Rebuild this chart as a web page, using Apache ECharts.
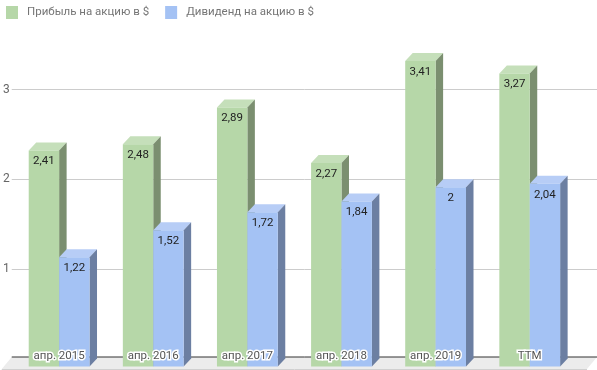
<!DOCTYPE html>
<html><head><meta charset="utf-8">
<script src="https://cdn.jsdelivr.net/npm/echarts@6/dist/echarts.min.js"></script>
<style>html,body{margin:0;padding:0;background:#fff}#c{width:597px;height:370px}</style>
</head><body><div id="c"></div>
<script>
const categories = ['апр. 2015', 'апр. 2016', 'апр. 2017', 'апр. 2018', 'апр. 2019', 'TTM'];
const profit = [2.41, 2.48, 2.89, 2.27, 3.41, 3.27];
const dividend = [1.22, 1.52, 1.72, 1.84, 2, 2.04];
const seriesNames = ['Прибыль на акцию в $', 'Дивиденд на акцию в $'];
const yTicks = [1, 2, 3];

const FONT = 'Roboto, "Noto Sans", sans-serif';
const DX = 7.5, DY = 8, BAR_FRAC = 0.323;
const colors = [
  {front: '#b6d7a8', side: '#7b8f70', top: '#c5dfba'},
  {front: '#a4c2f4', side: '#6c7fa2', top: '#b7cdf6'}
];
const fmt = v => String(v).replace('.', ',');

function barRender(k) {
  return function (params, api) {
    const i = api.value(0), v = api.value(1);
    const p = api.coord([i, v]), p0 = api.coord([i, 0]);
    const band = api.size([1, 0])[0];
    const w = band * BAR_FRAC;
    const cx = p[0] - DX;
    const xl = k === 0 ? cx - w : cx;
    const xr = xl + w;
    const yt = p[1] + DY, yb = p0[1] + DY;
    const c = colors[k];
    return {
      type: 'group',
      children: [
        {type: 'polygon', shape: {points: [[xl, yt], [xl + DX, yt - DY], [xr + DX, yt - DY], [xr, yt]]}, style: {fill: c.top}},
        {type: 'polygon', shape: {points: [[xr, yb], [xr, yt], [xr + DX, yt - DY], [xr + DX, yb - DY]]}, style: {fill: c.side}},
        {type: 'rect', shape: {x: xl, y: yt, width: w, height: yb - yt}, style: {fill: c.front}},
        {type: 'text', style: {text: fmt(v), x: (xl + xr) / 2, y: yt + 11, align: 'center', verticalAlign: 'middle', fill: '#222', font: '11.5px ' + FONT}}
      ]
    };
  };
}

const chart = echarts.init(document.getElementById('c'), null, {renderer: 'canvas'});
chart.setOption({
  animation: false,
  legend: {
    data: seriesNames, left: 1, top: 1, icon: 'rect', itemWidth: 12, itemHeight: 13, itemGap: 16,
    textStyle: {color: '#757575', fontSize: 11.5, fontFamily: FONT, padding: [0, 0, 0, 4]}
  },
  grid: {left: 10, right: 0, top: -4.7, bottom: 11.5, containLabel: false},
  xAxis: {type: 'value', min: -0.583, max: 5.635, show: false},
  yAxis: {
    type: 'value', min: 0, max: 4, interval: 1,
    axisLine: {show: false}, axisTick: {show: false},
    axisLabel: {color: '#666', fontSize: 12, fontFamily: FONT, margin: 2, showMinLabel: false, showMaxLabel: false,
      formatter: v => yTicks.includes(v) ? fmt(v) : ''},
    splitLine: {show: true, showMinLine: false, showMaxLine: false, lineStyle: {color: '#cccccc', width: 1}}
  },
  series: [
    {
      type: 'custom', name: 'floor', silent: true, z: 1,
      data: [[0, 0]],
      renderItem: function (params, api) {
        const cs = params.coordSys;
        const y0 = api.coord([0, 0])[1];
        const xl = cs.x, xr = cs.x + cs.width;
        const top = y0 - 1.5, bot = y0 + 10.5;
        return {type: 'group', children: [
          {type: 'polygon', shape: {points: [[xl, top], [xr, top], [xr - 10, bot], [xl - 10, bot]]}, style: {fill: '#ececec'}},
          {type: 'line', shape: {x1: xl - 10, y1: bot + 0.5, x2: xr - 10, y2: bot + 0.5}, style: {stroke: '#d0d0d0', lineWidth: 1}},
          {type: 'line', shape: {x1: xl, y1: top, x2: xr, y2: top}, style: {stroke: '#333', lineWidth: 1}}
        ]};
      }
    },
    {type: 'custom', name: seriesNames[0], z: 2, itemStyle: {color: colors[0].front},
      data: profit.map((v, i) => [i, v]), renderItem: barRender(0)},
    {type: 'custom', name: seriesNames[1], z: 3, itemStyle: {color: colors[1].front},
      data: dividend.map((v, i) => [i, v]), renderItem: barRender(1)},
    {
      type: 'custom', name: 'cats', silent: true, z: 4,
      data: categories.map((c, i) => [i, 0]),
      renderItem: function (params, api) {
        const i = api.value(0);
        const p = api.coord([i, 0]);
        const x = p[0] - DX, y = p[1] - 2;
        const t = categories[i];
        return {type: 'group', children: [
          {type: 'text', style: {text: t, x: x, y: y, align: 'center', verticalAlign: 'middle', fill: '#fff', stroke: '#fff', lineWidth: 3, font: '11.5px ' + FONT}},
          {type: 'text', style: {text: t, x: x, y: y, align: 'center', verticalAlign: 'middle', fill: '#555', font: '11.5px ' + FONT}}
        ]};
      }
    }
  ]
});
</script></body></html>
